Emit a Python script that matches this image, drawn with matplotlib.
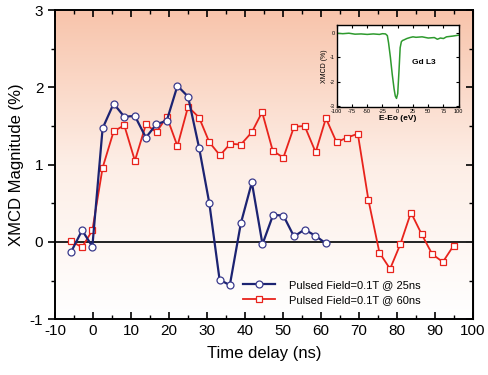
import numpy as np
import matplotlib
matplotlib.use("Agg")
import matplotlib.pyplot as plt
from matplotlib.colors import LinearSegmentedColormap
from matplotlib.ticker import MultipleLocator

plt.rcParams['font.family'] = ['Liberation Sans', 'DejaVu Sans']
plt.rcParams['axes.unicode_minus'] = False

# time delay (ns) and XMCD magnitude (%)
t_25 = [-5.8, -2.9, -0.2, 2.5, 5.4, 8.2, 11.0, 13.9, 16.6, 19.4, 22.2, 25.0, 27.9,
        30.6, 33.3, 36.0, 38.9, 41.8, 44.6, 47.4, 50.1, 52.9, 55.7, 58.5, 61.3]
xmcd_25 = [-0.13, 0.15, -0.06, 1.47, 1.79, 1.62, 1.63, 1.35, 1.52, 1.57, 2.02, 1.88, 1.22,
           0.50, -0.49, -0.56, 0.24, 0.77, -0.03, 0.35, 0.34, 0.07, 0.16, 0.08, -0.02]

t_60 = [-5.8, -2.9, -0.2, 2.5, 5.4, 8.2, 11.0, 13.9, 16.7, 19.4, 22.2, 25.0, 27.9,
        30.6, 33.4, 36.1, 38.9, 41.8, 44.5, 47.3, 50.1, 52.9, 55.7, 58.6, 61.3, 64.1,
        66.9, 69.7, 72.5, 75.4, 78.2, 80.9, 83.7, 86.5, 89.3, 92.1, 94.9]
xmcd_60 = [0.01, -0.07, 0.15, 0.96, 1.43, 1.51, 1.05, 1.52, 1.42, 1.62, 1.24, 1.75, 1.61,
           1.29, 1.12, 1.27, 1.26, 1.42, 1.68, 1.18, 1.09, 1.49, 1.50, 1.16, 1.60, 1.29,
           1.35, 1.40, 0.54, -0.14, -0.35, -0.03, 0.38, 0.10, -0.16, -0.26, -0.05]

# inset: Gd L3 XMCD spectrum
energy = [-100, -90, -80, -70, -60, -50, -40, -30, -25, -20, -17, -15, -12, -9, -6, -4,
          -2, 0, 2, 4, 6, 8, 10, 15, 20, 25, 30, 40, 50, 60, 65, 70, 75, 80, 90, 100]
spectrum = [0.0, -0.02, 0.0, -0.04, -0.03, -0.05, -0.03, -0.05, -0.02, -0.03, -0.1, -0.4,
            -1.0, -1.7, -2.3, -2.6, -2.7, -2.5, -1.6, -0.6, -0.35, -0.3, -0.28, -0.22,
            -0.18, -0.15, -0.17, -0.15, -0.2, -0.18, -0.25, -0.2, -0.22, -0.15, -0.12, -0.08]

fig = plt.figure(figsize=(4.88, 3.75), dpi=100)
ax = fig.add_axes([0.113, 0.149, 0.856, 0.824])

# peach-to-white background
grad = np.linspace(1, 0, 256).reshape(-1, 1)
cmap = LinearSegmentedColormap.from_list('bg', ['#ffffff', '#fdeee6', '#f8c4ab'])
ax.imshow(grad, cmap=cmap, aspect='auto', extent=[0, 1, 0, 1],
          transform=ax.transAxes, zorder=0)

ax.axhline(0, color='#222222', lw=1.4, zorder=1)
ax.plot(t_25, xmcd_25, color='#1c2372', lw=1.6, marker='o', markersize=5,
        markerfacecolor='white', markeredgecolor='#3a3a8c', markeredgewidth=0.9,
        label='Pulsed Field=0.1T @ 25ns', zorder=3)
ax.plot(t_60, xmcd_60, color='#e8231c', lw=1.3, marker='s', markersize=5,
        markerfacecolor='white', markeredgecolor='#e8231c', markeredgewidth=0.9,
        label='Pulsed Field=0.1T @ 60ns', zorder=2)

ax.set_xlim(-10, 100)
ax.set_ylim(-1, 3)
ax.xaxis.set_major_locator(MultipleLocator(10))
ax.xaxis.set_minor_locator(MultipleLocator(5))
ax.yaxis.set_major_locator(MultipleLocator(1))
ax.yaxis.set_minor_locator(MultipleLocator(0.5))
ax.tick_params(axis='x', which='both', direction='in', top=True, labelsize=11)
ax.tick_params(axis='y', which='both', direction='out', labelsize=11)
ax.tick_params(which='major', length=5, width=1.2)
ax.tick_params(which='minor', length=3, width=1)
ax.set_xlabel('Time delay (ns)', fontsize=12, labelpad=6)
ax.set_ylabel('XMCD Magnitude (%)', fontsize=12)
for s in ax.spines.values():
    s.set_linewidth(1.4)

# right spine ticks inward
axr = ax.secondary_yaxis('right')
axr.yaxis.set_major_locator(MultipleLocator(1))
axr.yaxis.set_minor_locator(MultipleLocator(0.5))
axr.tick_params(which='both', direction='in', labelright=False)
axr.tick_params(which='major', length=5, width=1.2)
axr.tick_params(which='minor', length=3, width=1)

ax.legend(loc='lower left', bbox_to_anchor=(0.45, 0.045), frameon=False,
          fontsize=8, handlelength=2.9, handletextpad=1.2, labelspacing=0.45,
          borderpad=0, borderaxespad=0)

# inset
ins = fig.add_axes([0.690, 0.715, 0.25, 0.219])
ins.plot(energy, spectrum, color='#2e9a2e', lw=1.1)
ins.set_xlim(-100, 100)
ins.set_ylim(-3.05, 0.35)
ins.set_xticks([-100, -75, -50, -25, 0, 25, 50, 75, 100])
ins.set_yticks([0, -1, -2, -3])
ins.tick_params(labelsize=4, length=2, direction='in', top=True, right=True, pad=1.5)
ins.set_xlabel('E-Eo (eV)', fontsize=6, labelpad=1, fontweight='bold')
ins.set_ylabel('XMCD (%)', fontsize=5, labelpad=1)
ins.text(0.62, 0.52, 'Gd L3', transform=ins.transAxes, fontsize=6, fontweight='bold')
for s in ins.spines.values():
    s.set_linewidth(1.0)

fig.savefig('out.png', dpi=100)
